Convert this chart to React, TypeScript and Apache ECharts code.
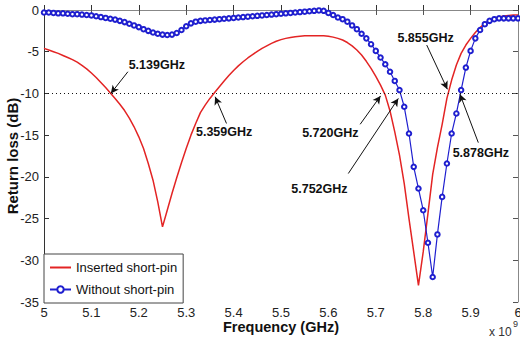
import React, { useEffect, useRef } from 'react';
import * as echarts from 'echarts';

const frequencyGHz = [
  5.0, 5.01, 5.02, 5.03, 5.04, 5.05, 5.06, 5.07, 5.08, 5.09,
  5.1, 5.11, 5.12, 5.13, 5.14, 5.15, 5.16, 5.17, 5.18, 5.19,
  5.2, 5.21, 5.22, 5.23, 5.24, 5.25, 5.26, 5.27, 5.28, 5.29,
  5.3, 5.31, 5.32, 5.33, 5.34, 5.35, 5.36, 5.37, 5.38, 5.39,
  5.4, 5.41, 5.42, 5.43, 5.44, 5.45, 5.46, 5.47, 5.48, 5.49,
  5.5, 5.51, 5.52, 5.53, 5.54, 5.55, 5.56, 5.57, 5.58, 5.59,
  5.6, 5.61, 5.62, 5.63, 5.64, 5.65, 5.66, 5.67, 5.68, 5.69,
  5.7, 5.71, 5.72, 5.73, 5.74, 5.75, 5.76, 5.77, 5.78, 5.79,
  5.8, 5.81, 5.82, 5.83, 5.84, 5.85, 5.86, 5.87, 5.88, 5.89,
  5.9, 5.91, 5.92, 5.93, 5.94, 5.95, 5.96, 5.97, 5.98, 5.99,
  6.0,
];

const insertedShortPin = [
  -4.6, -4.8, -5.0, -5.2, -5.45, -5.7, -5.95, -6.25, -6.65, -7.05,
  -7.55, -8.1, -8.7, -9.3, -9.95, -10.6, -11.3, -12.05, -12.95, -14.0,
  -15.2, -16.6, -18.4, -20.4, -23.0, -26.0, -24.0, -22.0, -20.1, -18.3,
  -16.6, -15.0, -13.6, -12.3, -11.4, -10.6, -9.9, -9.2, -8.5, -7.85,
  -7.25, -6.7, -6.2, -5.75, -5.35, -4.95, -4.6, -4.3, -4.0, -3.75,
  -3.55, -3.4, -3.3, -3.2, -3.15, -3.1, -3.1, -3.1, -3.1, -3.1,
  -3.15, -3.25, -3.4, -3.6, -3.9, -4.3, -4.8, -5.4, -6.15, -7.0,
  -7.95, -9.0, -10.2, -12.1, -14.6, -17.4, -20.8, -25.0, -29.0, -33.0,
  -29.0, -24.4, -19.7, -16.5, -13.7, -10.6, -8.4, -6.6, -5.2, -4.2,
  -3.4, -2.7, -2.1, -1.6, -1.25, -1.0, -0.85, -0.72, -0.65, -0.6,
  -0.6,
];

const withoutShortPin = [
  -0.3, -0.3, -0.35, -0.4, -0.4, -0.45, -0.5, -0.5, -0.55, -0.6,
  -0.65, -0.75, -0.85, -0.95, -1.05, -1.15, -1.3, -1.45, -1.65, -1.85,
  -2.05, -2.3, -2.5, -2.7, -2.85, -2.95, -3.0, -2.95, -2.75, -2.4,
  -1.95, -1.6, -1.4, -1.3, -1.25, -1.2, -1.15, -1.1, -1.05, -1.0,
  -0.95, -0.9, -0.85, -0.8, -0.75, -0.7, -0.65, -0.6, -0.55, -0.5,
  -0.45, -0.4, -0.35, -0.3, -0.25, -0.2, -0.15, -0.1, -0.05, -0.1,
  -0.35, -0.6, -0.9, -1.1, -1.4, -1.85, -2.3, -2.85, -3.4, -4.1,
  -4.9, -5.7, -6.5, -7.4, -8.5, -9.6, -11.6, -14.8, -18.8, -21.4,
  -24.0, -27.9, -32.0, -26.9, -22.4, -18.4, -14.8, -12.4, -9.6, -6.9,
  -4.9, -3.4, -2.4, -1.7, -1.3, -1.1, -1.0, -1.0, -1.0, -1.0,
  -1.0,
];

const seriesNames = ['Inserted short-pin', 'Without short-pin'];
const thresholdDb = -10;
const crossingsGHz = [5.139, 5.359, 5.72, 5.752, 5.855, 5.878];
const xTickLabels = ['5', '5.1', '5.2', '5.3', '5.4', '5.5', '5.6', '5.7', '5.8', '5.9', '6'];
const yTickLabels = ['0', '-5', '-10', '-15', '-20', '-25', '-30', '-35'];

// Annotation layout in axis units: label centre, arrow tail, arrow tip
const annotationLayout = [
  { label: [5.238, -6.6], tail: [5.177, -7.4], tip: [5.141, -10.0] },
  { label: [5.380, -14.6], tail: [5.385, -13.6], tip: [5.361, -10.4] },
  { label: [5.604, -14.7], tail: [5.667, -13.7], tip: [5.710, -10.3] },
  { label: [5.581, -21.5], tail: [5.642, -19.6], tip: [5.7475, -10.6] },
  { label: [5.805, -3.3], tail: [5.8074, -4.2], tip: [5.851, -9.5] },
  { label: [5.9215, -17.2], tail: [5.9163, -15.9], tip: [5.8776, -10.1] },
];

const RED = '#e32424';
const BLUE = '#1f1fcf';
const FONT = '"Liberation Sans", Arial, sans-serif';

export default function App() {
  const ref = useRef<HTMLDivElement>(null);

  useEffect(() => {
    if (!ref.current) return;
    const chart = echarts.init(ref.current, undefined, { renderer: 'svg' });

    const redData = frequencyGHz.map((f, i) => [f, insertedShortPin[i]]);
    const blueData = frequencyGHz.map((f, i) => [f, withoutShortPin[i]]);

    const arrowLines = annotationLayout.map((a) => [
      { coord: a.tail, symbol: 'none' },
      { coord: a.tip, symbol: 'arrow' },
    ]);
    const labelPoints = annotationLayout.map((a, i) => ({
      coord: a.label,
      value: crossingsGHz[i].toFixed(3) + 'GHz',
      symbol: 'rect',
      symbolSize: 1,
      itemStyle: { color: 'rgba(0,0,0,0)' },
      label: {
        show: true,
        position: 'inside',
        formatter: crossingsGHz[i].toFixed(3) + 'GHz',
        color: '#111',
        fontFamily: FONT,
        fontWeight: 'bold',
        fontSize: 12.5,
      },
    }));

    const xFmt = (v: number) => xTickLabels[Math.round((v - 5) * 10)] ?? '';
    const yFmt = (v: number) => yTickLabels[Math.round(-v / 5)] ?? '';

    chart.setOption({
      animation: false,
      backgroundColor: '#fff',
      textStyle: { fontFamily: FONT },
      grid: { left: 44, right: 2, top: 10, bottom: 42, containLabel: false, outerBoundsMode: 'none' },
      legend: {
        orient: 'vertical',
        left: 44,
        top: 254,
        padding: [7, 6, 7, 5],
        itemGap: 9,
        itemWidth: 21,
        itemHeight: 8,
        backgroundColor: '#fff',
        borderColor: '#444',
        borderWidth: 1,
        borderRadius: 0,
        textStyle: { fontFamily: FONT, fontSize: 13, color: '#111' },
        data: [
          { name: seriesNames[0], itemStyle: { color: 'rgba(0,0,0,0)', borderWidth: 0 } },
          { name: seriesNames[1] },
        ],
      },
      xAxis: [
        {
          type: 'value',
          min: 5,
          max: 6,
          interval: 0.1,
          name: 'Frequency (GHz)',
          nameLocation: 'middle',
          nameGap: 17,
          nameMoveOverlap: false,
          nameTextStyle: { fontFamily: FONT, fontWeight: 'bold', fontSize: 14.5, color: '#111' },
          axisLine: { lineStyle: { color: '#333', width: 1 } },
          axisTick: { inside: true, length: 5, lineStyle: { color: '#333' } },
          axisLabel: { formatter: xFmt, fontSize: 13, color: '#222', margin: 4, fontFamily: FONT },
          splitLine: { show: false },
        },
        {
          type: 'value',
          position: 'top',
          min: 5,
          max: 6,
          interval: 0.1,
          axisLine: { lineStyle: { color: '#888', width: 1 } },
          axisTick: { inside: true, length: 5, lineStyle: { color: '#555' } },
          axisLabel: { show: false },
          splitLine: { show: false },
        },
      ],
      yAxis: [
        {
          type: 'value',
          min: -35,
          max: 0,
          interval: 5,
          name: 'Return loss (dB)',
          nameLocation: 'middle',
          nameGap: 24,
          nameMoveOverlap: false,
          nameTextStyle: { fontFamily: FONT, fontWeight: 'bold', fontSize: 15, color: '#111' },
          axisLine: { show: true, lineStyle: { color: '#333', width: 1 } },
          axisTick: { show: true, inside: true, length: 5, lineStyle: { color: '#333' } },
          axisLabel: { formatter: yFmt, fontSize: 13, color: '#222', margin: 5, fontFamily: FONT },
          splitLine: { show: false },
        },
        {
          type: 'value',
          position: 'right',
          min: -35,
          max: 0,
          interval: 5,
          axisLine: { show: true, lineStyle: { color: '#888', width: 1 } },
          axisTick: { show: true, inside: true, length: 5, lineStyle: { color: '#555' } },
          axisLabel: { show: false },
          splitLine: { show: false },
        },
      ],
      series: [
        {
          name: seriesNames[0],
          type: 'line',
          data: redData,
          showSymbol: false,
          symbol: 'none',
          smooth: false,
          color: RED,
          lineStyle: { color: RED, width: 1.5 },
          z: 2,
          markLine: {
            silent: true,
            symbolSize: [6, 8],
            lineStyle: { color: '#111', width: 1, type: 'solid' },
            label: { show: false },
            emphasis: { disabled: true },
            data: arrowLines,
          },
          markPoint: {
            silent: true,
            data: labelPoints,
          },
        },
        {
          name: seriesNames[1],
          type: 'line',
          data: blueData,
          symbol: 'emptyCircle',
          symbolSize: 4.5,
          showAllSymbol: true,
          color: BLUE,
          itemStyle: { color: BLUE, borderColor: BLUE, borderWidth: 1 },
          lineStyle: { color: BLUE, width: 1.2 },
          z: 3,
          markLine: {
            silent: true,
            symbol: ['none', 'none'],
            lineStyle: { color: '#111', width: 1, type: [1, 3] },
            label: { show: false },
            emphasis: { disabled: true },
            data: [{ yAxis: thresholdDb }],
          },
        },
      ],
      graphic: [
        {
          type: 'text',
          left: 489,
          top: 326,
          style: { text: 'x 10', fontFamily: FONT, fontSize: 12, fill: '#333' },
        },
        {
          type: 'text',
          left: 513,
          top: 319,
          style: { text: '9', fontFamily: FONT, fontSize: 9, fill: '#333' },
        },
      ],
    });

    return () => chart.dispose();
  }, []);

  return (
    <div
      ref={ref}
      style={{ position: 'fixed', left: 0, top: 0, width: 520, height: 344, background: '#fff' }}
    />
  );
}
